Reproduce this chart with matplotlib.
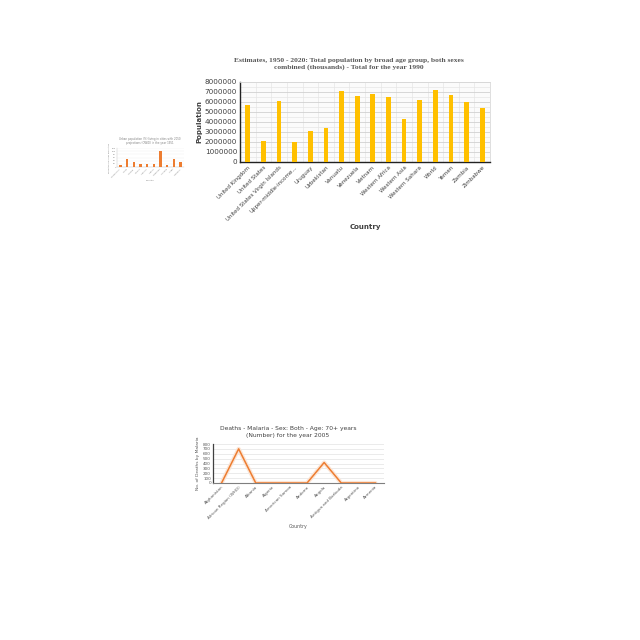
import matplotlib.pyplot as plt
import numpy as np
from matplotlib.ticker import MultipleLocator

# --- top chart: population 1990 ---
pop_countries = ["United Kingdom", "United States", "United States Virgin Islands",
                 "Upper-middle-income...", "Uruguay", "Uzbekistan", "Vanuatu", "Venezuela",
                 "Vietnam", "Western Africa", "Western Asia", "Western Sahara", "World",
                 "Yemen", "Zambia", "Zimbabwe"]
pop_values = [5750000, 2100000, 6100000, 2000000, 3100000, 3400000, 7150000, 6650000,
              6800000, 6550000, 4300000, 6200000, 7250000, 6700000, 6050000, 5450000]
pop_ticks = [0, 1000000, 2000000, 3000000, 4000000, 5000000, 6000000, 7000000, 8000000]

# --- small left chart (text unreadable in reference) ---
urban_countries = ["Afghanistan", "Africa", "Albania", "Algeria", "Andorra",
                   "Angola", "Argentina", "Armenia", "Aruba", "Australia"]
urban_values = [15, 52, 30, 18, 17, 16, 100, 12, 50, 30]

# --- bottom chart: malaria deaths 2005 ---
mal_countries = ["Afghanistan", "African Region (WHO)", "Albania", "Algeria",
                 "American Samoa", "Andorra", "Angola", "Antigua and Barbuda",
                 "Argentina", "Armenia"]
mal_values = [0, 700, 0, 0, 0, 0, 420, 0, 0, 0]

W = H = 640
fig = plt.figure(figsize=(6.4, 6.4), dpi=100)


def box(x0, y0, x1, y1):
    # pixel box (top-left origin) -> figure fraction
    return [x0 / W, 1 - y1 / H, (x1 - x0) / W, (y1 - y0) / H]


# ---------------- top chart ----------------
ax = fig.add_axes(box(240, 82, 490, 162))
x = np.arange(len(pop_countries))
ax.bar(x, pop_values, width=0.3, color="#FFC000", zorder=3)
ax.set_xlim(-0.5, len(x) - 0.5)
ax.set_ylim(0, 8000000)
ax.set_yticks(pop_ticks)
ax.set_yticklabels([str(v) for v in pop_ticks], fontsize=5.2, color="#404040")
ax.yaxis.set_minor_locator(MultipleLocator(500000))
ax.set_xticks(x)
ax.set_xticklabels(pop_countries, rotation=45, ha="right", rotation_mode="anchor",
                   fontsize=4.0, color="#404040")
ax.set_xticks(np.arange(-0.5, len(x), 1), minor=True)
ax.grid(which="major", axis="y", color="#d0d0d0", lw=0.6, zorder=0)
ax.grid(which="minor", color="#e6e6e6", lw=0.5, zorder=0)
ax.tick_params(which="both", length=0, pad=2)
ax.set_facecolor("#fbfbfb")
for s in ["top", "right"]:
    ax.spines[s].set_color("#d9d9d9")
    ax.spines[s].set_linewidth(0.6)
ax.spines["left"].set_color("#222222")
ax.spines["bottom"].set_color("#222222")
ax.spines["left"].set_linewidth(1.0)
ax.spines["bottom"].set_linewidth(1.0)
ax.set_ylabel("Population", fontsize=5.0, fontweight="bold", color="#404040", labelpad=2)
ax.set_xlabel("Country", fontsize=5.0, fontweight="bold", color="#404040", labelpad=1.5)
fig.text(349 / W, 1 - 64 / H,
         "Estimates, 1950 - 2020: Total population by broad age group, both sexes\n"
         "combined (thousands) - Total for the year 1990",
         ha="center", va="center", fontsize=5.4, fontweight="bold",
         family="Liberation Serif", color="#595959", linespacing=1.3)

# ---------------- small left chart ----------------
ax2 = fig.add_axes(box(117, 148, 184, 167))
x2 = np.arange(len(urban_countries))
ax2.bar(x2, urban_values, width=0.35, color="#ED7D31", zorder=3)
ax2.set_xlim(-0.5, len(x2) - 0.5)
ax2.set_ylim(0, 120)
ax2.set_yticks(range(0, 121, 20))
ax2.set_yticklabels([str(v) for v in range(0, 121, 20)], fontsize=1.5, color="#808080")
ax2.set_xticks(x2)
ax2.set_xticklabels(urban_countries, rotation=45, ha="right", rotation_mode="anchor",
                    fontsize=1.5, color="#808080")
ax2.grid(axis="y", color="#ececec", lw=0.3, zorder=0)
ax2.tick_params(length=0, pad=0.8)
for s in ["top", "right"]:
    ax2.spines[s].set_visible(False)
ax2.spines["left"].set_color("#bfbfbf")
ax2.spines["bottom"].set_color("#bfbfbf")
ax2.spines["left"].set_linewidth(0.3)
ax2.spines["bottom"].set_linewidth(0.3)
ax2.set_ylabel("Percentage of urban population", fontsize=1.4, color="#808080", labelpad=1)
ax2.set_xlabel("Country", fontsize=1.6, color="#808080", labelpad=1)
fig.text(150 / W, 1 - 141 / H,
         "Urban population (%) living in cities with 2050\nprojections (OWID) in the year 1951",
         ha="center", va="center", fontsize=1.9, color="#808080", linespacing=1.3)

# ---------------- bottom chart ----------------
ax3 = fig.add_axes(box(213, 444, 384, 483))
x3 = np.arange(len(mal_countries))
ax3.plot(x3, mal_values, color="#FBE5D6", lw=3.0, zorder=2, solid_capstyle="round")
ax3.plot(x3, mal_values, color="#ED7D31", lw=1.1, zorder=3)
ax3.set_xlim(-0.5, len(x3) - 0.5)
ax3.set_ylim(0, 800)
ax3.set_yticks(range(0, 801, 100))
ax3.set_yticklabels([str(v) for v in range(0, 801, 100)], fontsize=3.0, color="#595959")
ax3.set_xticks(x3)
ax3.set_xticklabels(mal_countries, rotation=45, ha="right", rotation_mode="anchor",
                    fontsize=3.0, color="#595959")
ax3.grid(axis="y", color="#e3e3e3", lw=0.5, zorder=0)
ax3.tick_params(length=0, pad=1.5)
for s in ["top", "right"]:
    ax3.spines[s].set_visible(False)
ax3.spines["left"].set_color("#404040")
ax3.spines["left"].set_linewidth(0.9)
ax3.spines["bottom"].set_color("#7f7f7f")
ax3.spines["bottom"].set_linewidth(0.8)
ax3.set_ylabel("No. of Deaths by Malaria", fontsize=3.2, color="#595959", labelpad=2)
ax3.set_xlabel("Country", fontsize=3.4, color="#595959", labelpad=3)
fig.text(288 / W, 1 - 432 / H,
         "Deaths - Malaria - Sex: Both - Age: 70+ years\n(Number) for the year 2005",
         ha="center", va="center", fontsize=4.3, color="#404040", linespacing=1.35)

fig.savefig("out.png", dpi=100, facecolor="white")
